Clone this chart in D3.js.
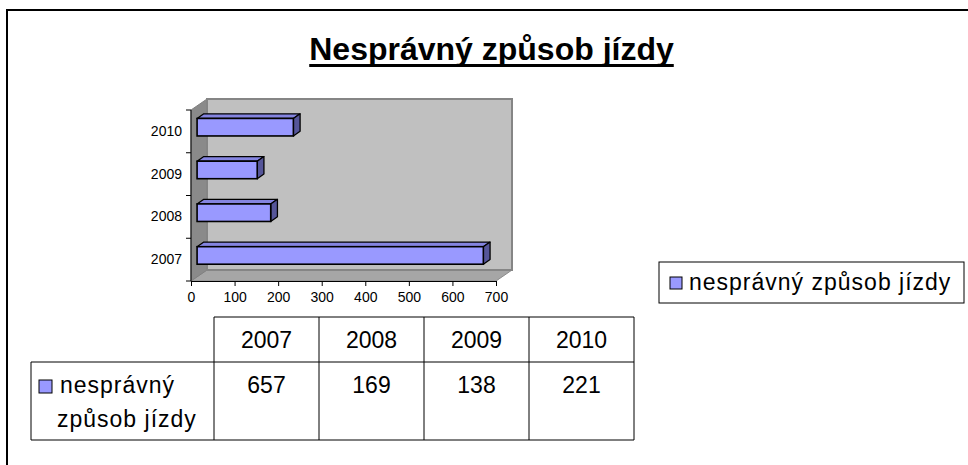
<!DOCTYPE html>
<html><head><meta charset="utf-8">
<script src="https://cdn.jsdelivr.net/npm/d3@7/dist/d3.min.js"></script>
<style>
html,body{margin:0;padding:0;background:#fff;}
svg{display:block;font-family:"Liberation Sans",Arial,sans-serif;}
</style></head>
<body>
<svg id="c" width="968" height="465"></svg>
<script>
const title = "Nesprávný způsob jízdy";
const seriesName = "nesprávný způsob jízdy";
const seriesLabelLines = ["nesprávný", "způsob jízdy"];
const categories = ["2007", "2008", "2009", "2010"];
const values = [657, 169, 138, 221];
const xTicks = [0, 100, 200, 300, 400, 500, 600, 700];

const svg = d3.select("#c");

// outer frame (top and left edges visible)
svg.append("path").attr("d", "M7,465 L7,10 L968,10")
  .attr("fill", "none").attr("stroke", "#000").attr("stroke-width", 2);

// title
const t = svg.append("text").attr("x", 491.5).attr("y", 60)
  .attr("text-anchor", "middle").attr("font-size", 32).attr("font-weight", "bold")
  .text(title);
const tw = t.node().getComputedTextLength();
svg.append("rect").attr("x", 491.5 - tw / 2).attr("y", 64).attr("width", tw).attr("height", 3).attr("fill", "#000");

// 3D plot geometry
const x = d3.scaleLinear().domain([0, 700]).range([191, 496]);
const y = d3.scaleBand().domain(categories).range([281, 110]).paddingInner(0.59).paddingOuter(0.295);
const yb = d3.scaleBand().domain(categories).range([281, 110]);
const dx = 16, dy = -11;
const f1 = 0.38, f2 = 0.8;
const o1 = [dx * f1, dy * f1], o2 = [dx * f2, dy * f2];

const X0 = x(0), X1 = x(700), Yt = 110, Yb = 281;
const g = svg.append("g");
const poly = pts => "M" + pts.map(p => p.join(",")).join("L") + "Z";

// floor
g.append("path").attr("d", poly([[X0, Yb], [X0 + dx, Yb + dy], [X1 + dx, Yb + dy], [X1, Yb]]))
  .attr("fill", "#a6a6a6").attr("stroke", "#8c8c8c").attr("stroke-width", 1);
// left wall
g.append("path").attr("d", poly([[X0, Yt], [X0 + dx, Yt + dy], [X0 + dx, Yb + dy], [X0, Yb]]))
  .attr("fill", "#8a8a8a").attr("stroke", "#808080").attr("stroke-width", 1);
// back wall
g.append("path").attr("d", poly([[X0 + dx, Yt + dy], [X1 + dx, Yt + dy], [X1 + dx, Yb + dy], [X0 + dx, Yb + dy]]))
  .attr("fill", "#c0c0c0").attr("stroke", "#858585").attr("stroke-width", 2);

// bars
const data = categories.map((c, i) => ({ c, v: values[i] }));
const bars = g.selectAll("g.bar").data(data).join("g").attr("class", "bar");
bars.append("path").attr("d", d => {
  const a = x(0), b = x(d.v), t0 = y(d.c);
  return poly([[a + o1[0], t0 + o1[1]], [b + o1[0], t0 + o1[1]], [b + o2[0], t0 + o2[1]], [a + o2[0], t0 + o2[1]]]);
}).attr("fill", "#8484e0").attr("stroke", "#000").attr("stroke-width", 1.3).attr("stroke-linejoin", "round");
bars.append("path").attr("d", d => {
  const b = x(d.v), t0 = y(d.c), t1 = t0 + y.bandwidth();
  return poly([[b + o1[0], t0 + o1[1]], [b + o2[0], t0 + o2[1]], [b + o2[0], t1 + o2[1]], [b + o1[0], t1 + o1[1]]]);
}).attr("fill", "#555599").attr("stroke", "#000").attr("stroke-width", 1.3).attr("stroke-linejoin", "round");
bars.append("rect")
  .attr("x", x(0) + o1[0]).attr("y", d => y(d.c) + o1[1])
  .attr("width", d => x(d.v) - x(0)).attr("height", y.bandwidth())
  .attr("fill", "#9999ff").attr("stroke", "#000").attr("stroke-width", 1.6);

// axes
const xa = svg.append("g").attr("transform", `translate(0,${Yb})`)
  .call(d3.axisBottom(x).tickValues(xTicks).tickSize(5).tickSizeOuter(0).tickPadding(6));
xa.select(".domain").attr("stroke", "#000");
xa.selectAll("text").attr("font-size", 14).attr("font-family", "Liberation Sans, Arial, sans-serif").attr("fill", "#000");

const ya = svg.append("g").attr("transform", `translate(${X0},0)`)
  .call(d3.axisLeft(y).tickSize(0).tickPadding(9));
ya.select(".domain").remove();
ya.selectAll("text").attr("font-size", 14).attr("font-family", "Liberation Sans, Arial, sans-serif").attr("fill", "#000");
svg.append("line").attr("x1", X0).attr("x2", X0).attr("y1", Yt).attr("y2", Yb).attr("stroke", "#000");
svg.selectAll("line.yt").data(categories.map(c => yb(c) + yb.bandwidth()).concat([Yt]))
  .join("line").attr("class", "yt").attr("x1", X0 - 5).attr("x2", X0)
  .attr("y1", d => d).attr("y2", d => d).attr("stroke", "#000");

// data table
const cx = d3.scaleBand().domain(categories).range([214, 634]);
const rTop = 317, rMid = 362, rBot = 440, lLeft = 31;
const tg = svg.append("g").attr("stroke", "#000").attr("stroke-width", 1).attr("fill", "none");
tg.append("path").attr("d", `M${cx.range()[0]},${rTop}H${cx.range()[1]}V${rBot}H${lLeft}V${rMid}H${cx.range()[1]}`);
tg.selectAll("line.col").data(categories).join("line").attr("class", "col")
  .attr("x1", d => cx(d)).attr("x2", d => cx(d)).attr("y1", rTop).attr("y2", rBot);

svg.selectAll("text.hdr").data(categories).join("text").attr("class", "hdr")
  .attr("x", d => cx(d) + cx.bandwidth() / 2).attr("y", 348)
  .attr("text-anchor", "middle").attr("font-size", 23).text(d => d);
svg.selectAll("text.val").data(data).join("text").attr("class", "val")
  .attr("x", d => cx(d.c) + cx.bandwidth() / 2).attr("y", 393)
  .attr("text-anchor", "middle").attr("font-size", 23).text(d => d.v);

svg.append("rect").attr("x", 39).attr("y", 380).attr("width", 13).attr("height", 13)
  .attr("fill", "#9999ff").attr("stroke", "#000").attr("stroke-width", 1);
svg.selectAll("text.lbl").data(seriesLabelLines).join("text").attr("class", "lbl")
  .attr("x", (d, i) => i === 0 ? 60 : 57).attr("y", (d, i) => 393 + i * 34)
  .attr("font-size", 23).attr("letter-spacing", 1).text(d => d);

// legend
svg.append("rect").attr("x", 659).attr("y", 262).attr("width", 305).attr("height", 41)
  .attr("fill", "#fff").attr("stroke", "#000").attr("stroke-width", 1);
svg.append("rect").attr("x", 670).attr("y", 277).attr("width", 12).attr("height", 12)
  .attr("fill", "#9999ff").attr("stroke", "#000").attr("stroke-width", 1);
svg.append("text").attr("x", 689).attr("y", 290).attr("font-size", 23).attr("letter-spacing", 1)
  .text(seriesName);
</script>
</body></html>
